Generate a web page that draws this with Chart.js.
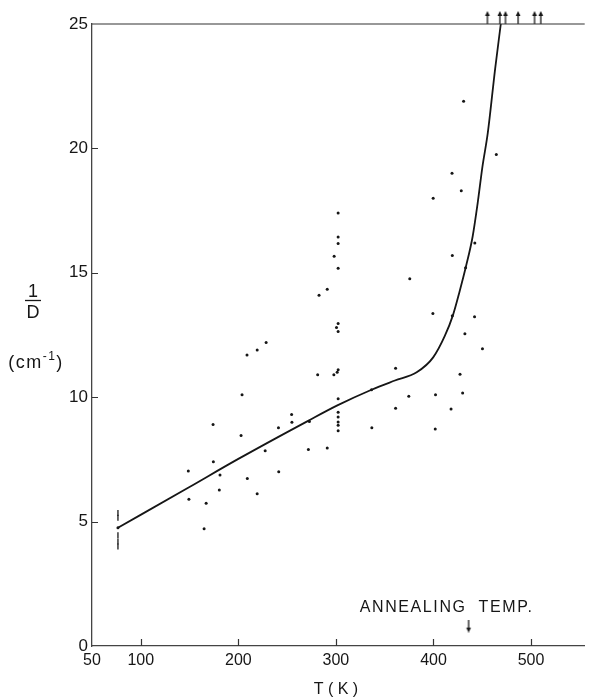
<!DOCTYPE html>
<html>
<head>
<meta charset="utf-8">
<script src="https://cdn.jsdelivr.net/npm/chart.js@4"></script>
<style>
  html, body { margin: 0; padding: 0; background: #fff; }
  #wrap { width: 590px; height: 699px; }
</style>
</head>
<body>
<div id="wrap"><canvas id="chart" width="590" height="699"></canvas></div>
<script>
// ---- values ----
const xTicks = [50, 100, 200, 300, 400, 500];
const yTicks = [0, 5, 10, 15, 20, 25];

// measured points: T (K) and 1/D (cm^-1)
const pointT = [
  76.6, 76.6, 76.6, 76.6, 76.6, 76.6,
  148.7, 149.3, 164.9, 167, 174.1, 174.4, 181.2, 180.5,
  202.8, 203.8, 209.2, 219.3, 227.5, 241.1, 241.4, 254.6, 254.9,
  208.9, 219.3, 228.5, 271.8, 272.8, 291.1, 282.7, 291.1, 281.3,
  302.3, 302.3, 302.3, 298.2, 302.3, 302.3, 300.6, 302.3, 302.3, 301.3, 297.9,
  302.3, 302.3, 302.3, 302.3, 302.3, 302.3,
  336.8, 336.5, 361.2, 361.2, 374.7, 375.7,
  399.7, 399.4, 402.1, 401.8, 419, 419.3, 419.3, 418,
  428.5, 432.2, 432.9, 427.2, 429.9, 430.9, 442.4, 442.1, 450.2, 464.4
];
const pointD = [
  5.35, 5.15, 4.75, 4.45, 4.2, 4.0,
  7.03, 5.9, 4.71, 5.74, 8.9, 7.41, 6.87, 6.27,
  8.46, 10.1, 6.73, 6.12, 7.85, 8.77, 7.0, 9.3, 8.99,
  11.7, 11.9, 12.2, 7.9, 9.02, 7.96, 14.1, 14.34, 10.9,
  17.4, 16.44, 16.18, 15.67, 15.18, 12.96, 12.8, 12.64, 11.1, 11.0, 10.9,
  9.94, 9.4, 9.2, 9.0, 8.87, 8.65,
  8.77, 10.3, 11.16, 9.56, 10.04, 14.76,
  18.0, 13.36, 10.1, 8.72, 19.0, 15.7, 13.27, 9.53,
  18.3, 12.55, 15.2, 10.92, 10.17, 21.9, 16.2, 13.23, 11.95, 19.75
];

// hand-drawn guide curve
const curveT = [76.6, 149, 200, 272, 301.5, 336.5, 360.5, 382.8, 399.7, 411.5, 420, 426.7, 433.4, 440.2, 445.3, 450.2, 455.6, 463.2, 469];
const curveD = [4.75, 6.37, 7.52, 9.06, 9.67, 10.3, 10.67, 11.0, 11.6, 12.45, 13.3, 14.24, 15.27, 16.47, 17.8, 19.27, 20.6, 23.2, 25];

// points above the top of the scale (drawn as arrows)
const offScaleT = [455.3, 468, 473.8, 486.7, 503.6, 510];

const annealT = 436;

const FONT = "'Liberation Sans', Arial, sans-serif";
const INK = "#161616";

// ---- arrow sprites ----
function arrowUp() {
  const c = document.createElement("canvas");
  c.width = 8; c.height = 26;
  const g = c.getContext("2d");
  g.fillStyle = INK; g.strokeStyle = INK; g.lineWidth = 1.3;
  g.beginPath(); g.moveTo(4, 4); g.lineTo(4, 13); g.stroke();
  g.beginPath(); g.moveTo(4, 0); g.lineTo(1.6, 5); g.lineTo(6.4, 5); g.closePath(); g.fill();
  return c;
}
function arrowDown() {
  const c = document.createElement("canvas");
  c.width = 8; c.height = 13;
  const g = c.getContext("2d");
  g.fillStyle = INK; g.strokeStyle = INK; g.lineWidth = 1.3;
  g.beginPath(); g.moveTo(4, 0); g.lineTo(4, 9); g.stroke();
  g.beginPath(); g.moveTo(4, 13); g.lineTo(1.6, 8); g.lineTo(6.4, 8); g.closePath(); g.fill();
  return c;
}

// the 77 K readings are drawn as short dashes in the original
const isDash = ctx => ctx.raw && ctx.raw.x < 80 && ctx.raw.y !== 4.75;

// ---- frame, inner ticks and free text ----
const frame = {
  id: "frame",
  afterDraw(chart) {
    const { ctx, chartArea: a, scales: { x, y } } = chart;
    ctx.save();
    ctx.strokeStyle = "#333";
    ctx.lineWidth = 1.2;
    // top edge at 25
    const yTop = y.getPixelForValue(25);
    ctx.beginPath(); ctx.moveTo(a.left, yTop); ctx.lineTo(a.right, yTop); ctx.stroke();
    // ticks pointing into the plot
    ctx.beginPath();
    xTicks.slice(1).forEach(v => {
      const px = Math.round(x.getPixelForValue(v)) + 0.5;
      ctx.moveTo(px, a.bottom); ctx.lineTo(px, a.bottom - 7);
    });
    yTicks.slice(1, -1).forEach(v => {
      const py = Math.round(y.getPixelForValue(v)) + 0.5;
      ctx.moveTo(a.left, py); ctx.lineTo(a.left + 6, py);
    });
    ctx.stroke();

    ctx.fillStyle = INK;
    // annealing label
    ctx.font = "16px " + FONT;
    ctx.letterSpacing = "1.6px";
    ctx.textAlign = "right";
    ctx.textBaseline = "alphabetic";
    ctx.fillText("ANNEALING", x.getPixelForValue(annealT) - 2, y.getPixelForValue(1.38));
    ctx.textAlign = "left";
    ctx.fillText("TEMP.", x.getPixelForValue(annealT) + 10, y.getPixelForValue(1.38));

    // x axis title
    ctx.font = "16px " + FONT;
    ctx.letterSpacing = "0px";
    ctx.textAlign = "center";
    ctx.fillText("T ( K )", x.getPixelForValue(300), 694);

    // y axis title: 1/D (cm^-1)
    const cx = 33;
    ctx.font = "18px " + FONT;
    ctx.fillText("1", cx, 297);
    ctx.fillText("D", cx, 318);
    ctx.lineWidth = 1.3;
    ctx.strokeStyle = INK;
    ctx.beginPath(); ctx.moveTo(cx - 8, 300.5); ctx.lineTo(cx + 8, 300.5); ctx.stroke();

    ctx.textAlign = "left";
    ctx.letterSpacing = "1.5px";
    const big = "18px " + FONT, small = "12px " + FONT;
    ctx.font = big; const w1 = ctx.measureText("(cm").width;
    ctx.font = small; const w2 = ctx.measureText("-1").width;
    ctx.font = big; const w3 = ctx.measureText(")").width;
    let sx = 36 - (w1 + w2 + w3) / 2;
    ctx.font = big; ctx.fillText("(cm", sx, 368); sx += w1;
    ctx.font = small; ctx.fillText("-1", sx, 360); sx += w2;
    ctx.font = big; ctx.fillText(")", sx, 368);
    ctx.restore();
  }
};

new Chart(document.getElementById("chart"), {
  type: "scatter",
  data: {
    datasets: [
      {
        label: "measured",
        data: pointT.map((t, i) => ({ x: t, y: pointD[i] })),
        pointStyle: c => isDash(c) ? "line" : "circle",
        rotation: c => isDash(c) ? 90 : 0,
        pointRadius: c => isDash(c) ? 3 : 1.5,
        pointBackgroundColor: INK,
        pointBorderColor: INK,
        pointBorderWidth: c => isDash(c) ? 1.3 : 0
      },
      {
        label: "curve",
        type: "line",
        data: curveT.map((t, i) => ({ x: t, y: curveD[i] })),
        borderColor: INK,
        borderWidth: 1.8,
        pointRadius: 0,
        cubicInterpolationMode: "monotone",
        fill: false
      },
      {
        label: "off scale",
        data: offScaleT.map(t => ({ x: t, y: 25 })),
        pointStyle: arrowUp(),
        clip: false
      },
      {
        label: "annealing",
        data: [{ x: annealT, y: 0.8 }],
        pointStyle: arrowDown(),
        clip: false
      }
    ]
  },
  options: {
    responsive: false,
    animation: false,
    layout: { padding: { top: 24, right: 0, bottom: 0, left: 0 } },
    plugins: { legend: { display: false }, tooltip: { enabled: false } },
    scales: {
      x: {
        type: "linear",
        min: 50,
        max: 555,
        afterBuildTicks: s => { s.ticks = xTicks.map(v => ({ value: v })); },
        afterFit: s => { s.height = 53; },
        grid: { display: false, drawTicks: false },
        border: { display: true, color: "#444", width: 1.3 },
        ticks: { color: INK, font: { family: FONT, size: 16 }, padding: 5, maxRotation: 0 }
      },
      y: {
        min: 0,
        max: 25,
        afterBuildTicks: s => { s.ticks = yTicks.map(v => ({ value: v })); },
        afterFit: s => { s.width = 92; },
        grid: { display: false, drawTicks: false },
        border: { display: true, color: "#444", width: 1.3 },
        ticks: { color: INK, font: { family: FONT, size: 17 }, padding: 4 }
      }
    }
  },
  plugins: [frame]
});
</script>
</body>
</html>
